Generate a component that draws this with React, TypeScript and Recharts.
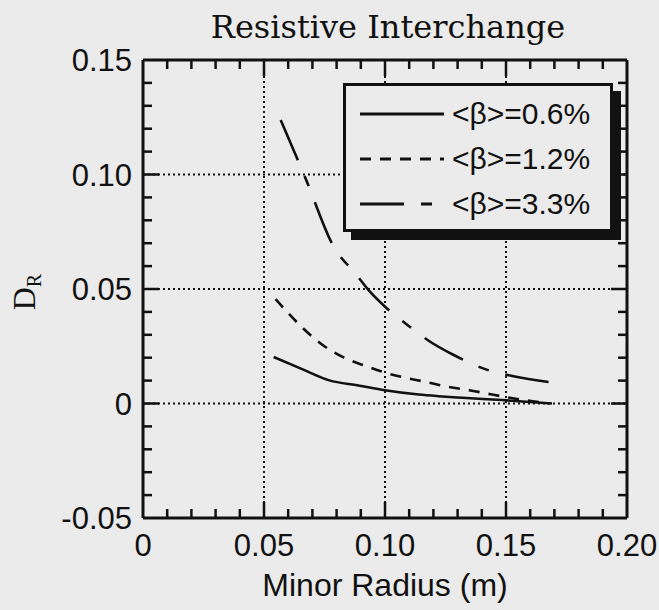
import { LineChart, Line, XAxis, YAxis, ReferenceLine } from "recharts";

const xTicks = [0, 0.01, 0.02, 0.03, 0.04, 0.05, 0.06, 0.07, 0.08, 0.09, 0.1, 0.11, 0.12, 0.13, 0.14, 0.15, 0.16, 0.17, 0.18, 0.19, 0.2];
const yTicks = [-0.05, -0.04, -0.03, -0.02, -0.01, 0, 0.01, 0.02, 0.03, 0.04, 0.05, 0.06, 0.07, 0.08, 0.09, 0.1, 0.11, 0.12, 0.13, 0.14, 0.15];
const xGrid = [0.05, 0.1, 0.15];
const yGrid = [0, 0.05, 0.1];
const xLabels: Record<string, string> = { "0": "0", "0.05": "0.05", "0.1": "0.10", "0.15": "0.15", "0.2": "0.20" };
const yLabels: Record<string, string> = { "-0.05": "-0.05", "0": "0", "0.05": "0.05", "0.1": "0.10", "0.15": "0.15" };

const beta06X = [0.054, 0.066, 0.077, 0.089, 0.1, 0.114, 0.122, 0.132, 0.1485, 0.169];
const beta06Y = [0.0203, 0.0149, 0.0101, 0.0079, 0.0058, 0.0039, 0.0032, 0.0025, 0.0015, 0.0];
const beta12X = [0.0548, 0.0658, 0.0748, 0.0831, 0.092, 0.101, 0.1182, 0.1264, 0.1354, 0.1443, 0.154, 0.161, 0.168];
const beta12Y = [0.0456, 0.0332, 0.0251, 0.02, 0.0164, 0.0132, 0.0091, 0.0072, 0.0057, 0.0039, 0.0021, 0.001, 0.0];
const beta33X = [0.0569, 0.0672, 0.0789, 0.0879, 0.0934, 0.0996, 0.1106, 0.1182, 0.1278, 0.1437, 0.1526, 0.1719];
const beta33Y = [0.1238, 0.0982, 0.0683, 0.0566, 0.0493, 0.0427, 0.0332, 0.0273, 0.0215, 0.0142, 0.012, 0.0088];

const toRows = (xs: number[], ys: number[]) => xs.map((x, i) => ({ x, y: ys[i] }));

const series = [
  { name: "<β>=0.6%", data: toRows(beta06X, beta06Y), dash: undefined as string | undefined },
  { name: "<β>=1.2%", data: toRows(beta12X, beta12Y), dash: "11 9" },
  { name: "<β>=3.3%", data: toRows(beta33X, beta33Y), dash: "44 17 11 17" },
];

const W = 659;
const H = 610;
const PLOT_LEFT = 143;
const PLOT_RIGHT = 627;
const PLOT_TOP = 60;
const PLOT_BOTTOM = 518;
const INK = "#111";
const BG = "#ebebeb";
const SANS = "'Liberation Sans', Arial, sans-serif";

const isMajor = (v: number) => Math.round(v * 100) % 5 === 0;

function XTick(props: any) {
  const { x, payload } = props;
  const v = payload.value;
  const len = isMajor(v) ? 16 : 9;
  const edge = v === 0 || v === 0.2;
  return (
    <g>
      {!edge && <line x1={x} x2={x} y1={PLOT_BOTTOM} y2={PLOT_BOTTOM - len} stroke={INK} strokeWidth={2.5} />}
      {!edge && <line x1={x} x2={x} y1={PLOT_TOP} y2={PLOT_TOP + len} stroke={INK} strokeWidth={2.5} />}
      {isMajor(v) && (
        <text x={x} y={PLOT_BOTTOM + 38} textAnchor="middle" fontFamily={SANS} fontSize={31} fill={INK}>
          {xLabels[String(v)]}
        </text>
      )}
    </g>
  );
}

function YTick(props: any) {
  const { y, payload } = props;
  const v = payload.value;
  const len = isMajor(v) ? 16 : 9;
  const edge = v === -0.05 || v === 0.15;
  return (
    <g>
      {!edge && <line x1={PLOT_LEFT} x2={PLOT_LEFT + len} y1={y} y2={y} stroke={INK} strokeWidth={2.5} />}
      {!edge && <line x1={PLOT_RIGHT} x2={PLOT_RIGHT - len} y1={y} y2={y} stroke={INK} strokeWidth={2.5} />}
      {isMajor(v) && (
        <text x={PLOT_LEFT - 11} y={y + 11} textAnchor="end" fontFamily={SANS} fontSize={31} fill={INK}>
          {yLabels[String(v)]}
        </text>
      )}
    </g>
  );
}

function LegendBox() {
  return (
    <div
      style={{
        position: "absolute",
        left: 343,
        top: 83,
        width: 270,
        height: 149,
        boxSizing: "border-box",
        border: `3px solid ${INK}`,
        boxShadow: `8px 8px 0 ${INK}`,
        background: BG,
        paddingTop: 5,
        paddingLeft: 14,
      }}
    >
      {series.map((s) => (
        <div key={s.name} style={{ height: 45, display: "flex", alignItems: "center" }}>
          <svg width={84} height={10} style={{ marginRight: 8 }}>
            <line x1={0} x2={84} y1={5} y2={5} stroke={INK} strokeWidth={3} strokeDasharray={s.dash} />
          </svg>
          <span style={{ fontFamily: SANS, fontSize: 30, color: INK, lineHeight: "30px" }}>{s.name}</span>
        </div>
      ))}
    </div>
  );
}

export default function App() {
  return (
    <div style={{ position: "absolute", left: 0, top: 0, width: W, height: H, background: BG }}>
      <div
        style={{
          position: "absolute",
          left: 0,
          width: 776,
          top: 12,
          textAlign: "center",
          fontFamily: "'DejaVu Serif', serif",
          fontSize: 32,
          lineHeight: "31px",
          color: INK,
        }}
      >
        Resistive Interchange
      </div>
      <LineChart width={W} height={H} margin={{ top: PLOT_TOP, right: W - PLOT_RIGHT, bottom: 0, left: 0 }}>
        <XAxis
          type="number"
          dataKey="x"
          domain={[0, 0.2]}
          ticks={xTicks}
          interval={0}
          height={H - PLOT_BOTTOM}
          tickSize={0}
          tickMargin={0}
          tickLine={false}
          tick={<XTick />}
          axisLine={{ stroke: INK, strokeWidth: 3 }}
          allowDataOverflow
          label={{
            content: () => (
              <text x={385} y={596} textAnchor="middle" fontFamily={SANS} fontSize={32} fill={INK}>
                Minor Radius (m)
              </text>
            ),
          }}
        />
        <YAxis
          type="number"
          dataKey="y"
          domain={[-0.05, 0.15]}
          ticks={yTicks}
          interval={0}
          width={PLOT_LEFT}
          tickSize={0}
          tickMargin={0}
          tickLine={false}
          tick={<YTick />}
          axisLine={{ stroke: INK, strokeWidth: 3 }}
          allowDataOverflow
          label={{
            content: () => (
              <text
                x={35}
                y={292}
                transform="rotate(-90, 35, 292)"
                textAnchor="middle"
                fontFamily="'Liberation Serif', 'Times New Roman', serif"
                fontSize={32}
                fill={INK}
              >
                D
                <tspan fontSize={20} dy={6}>
                  R
                </tspan>
              </text>
            ),
          }}
        />
        {xGrid.map((g) => (
          <ReferenceLine key={`xg${g}`} x={g} stroke={INK} strokeWidth={2} strokeDasharray="2 3" />
        ))}
        {yGrid.map((g) => (
          <ReferenceLine key={`yg${g}`} y={g} stroke={INK} strokeWidth={2} strokeDasharray="2 3" />
        ))}
        <ReferenceLine y={0.15} stroke={INK} strokeWidth={3} />
        <ReferenceLine x={0.2} stroke={INK} strokeWidth={3} />
        {series.map((s) => (
          <Line
            key={s.name}
            data={s.data}
            dataKey="y"
            name={s.name}
            type="monotone"
            stroke={INK}
            strokeWidth={2.6}
            strokeDasharray={s.dash}
            dot={false}
            activeDot={false}
            isAnimationActive={false}
          />
        ))}
      </LineChart>
      <LegendBox />
    </div>
  );
}
